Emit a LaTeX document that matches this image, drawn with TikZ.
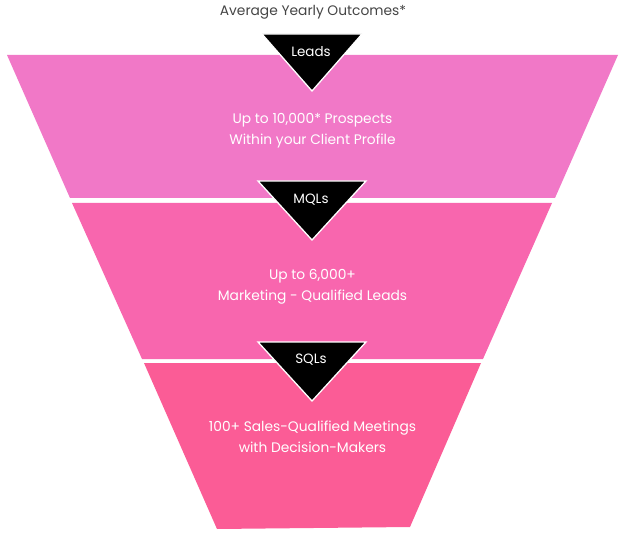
\documentclass[tikz,border=0pt]{standalone}
\usepackage{fontspec}
\setmainfont{Poppins}
\definecolor{pinkA}{HTML}{F178C7}
\definecolor{pinkB}{HTML}{F866AE}
\definecolor{pinkC}{HTML}{FB5C96}
\definecolor{titlegray}{HTML}{454545}
\tikzset{
  band/.style={draw=none},
  marker/.style={fill=black, draw=white, line width=1.3pt, line join=miter},
  inlabel/.style={text=white, font=\fontsize{13.8}{21}\selectfont, align=center, inner sep=0pt},
  tag/.style={text=white, font=\fontsize{13.5}{15}\selectfont, inner sep=0pt},
}
\begin{document}
\begin{tikzpicture}[x=1pt,y=-1pt]
\useasboundingbox (0,0) rectangle (625,535);
\node[text=titlegray, font=\fontsize{13.8}{15}\selectfont, inner sep=0pt] (title) at (313,12) {Average Yearly Outcomes*};
\fill[pinkA] (7,55) -- (618,55) -- (555,198) -- (70,198) -- cycle;
\fill[pinkB] (72,203) -- (552,203) -- (483,359) -- (142,359) -- cycle;
\fill[pinkC] (144,363) -- (481,363) -- (410,527) -- (217,529) -- cycle;
\draw[marker] (262,34) -- (362,34) -- (312,91) -- cycle;
\draw[marker] (258,181) -- (366,181) -- (312,240) -- cycle;
\draw[marker] (258,342) -- (366,342) -- (312,401) -- cycle;
\node[tag] (leads) at (311,52) {Leads};
\node[tag] (mqls) at (311,200) {MQLs};
\node[tag] (sqls) at (311,360) {SQLs};
\node[inlabel] (t1) at (312.5,130.5) {Up to 10,000* Prospects\\Within your Client Profile};
\node[inlabel] (t2) at (312.5,287) {Up to 6,000+\\Marketing - Qualified Leads};
\node[inlabel] (t3) at (312.5,436.5) {100+ Sales-Qualified Meetings\\with Decision-Makers};
\end{tikzpicture}
\end{document}
